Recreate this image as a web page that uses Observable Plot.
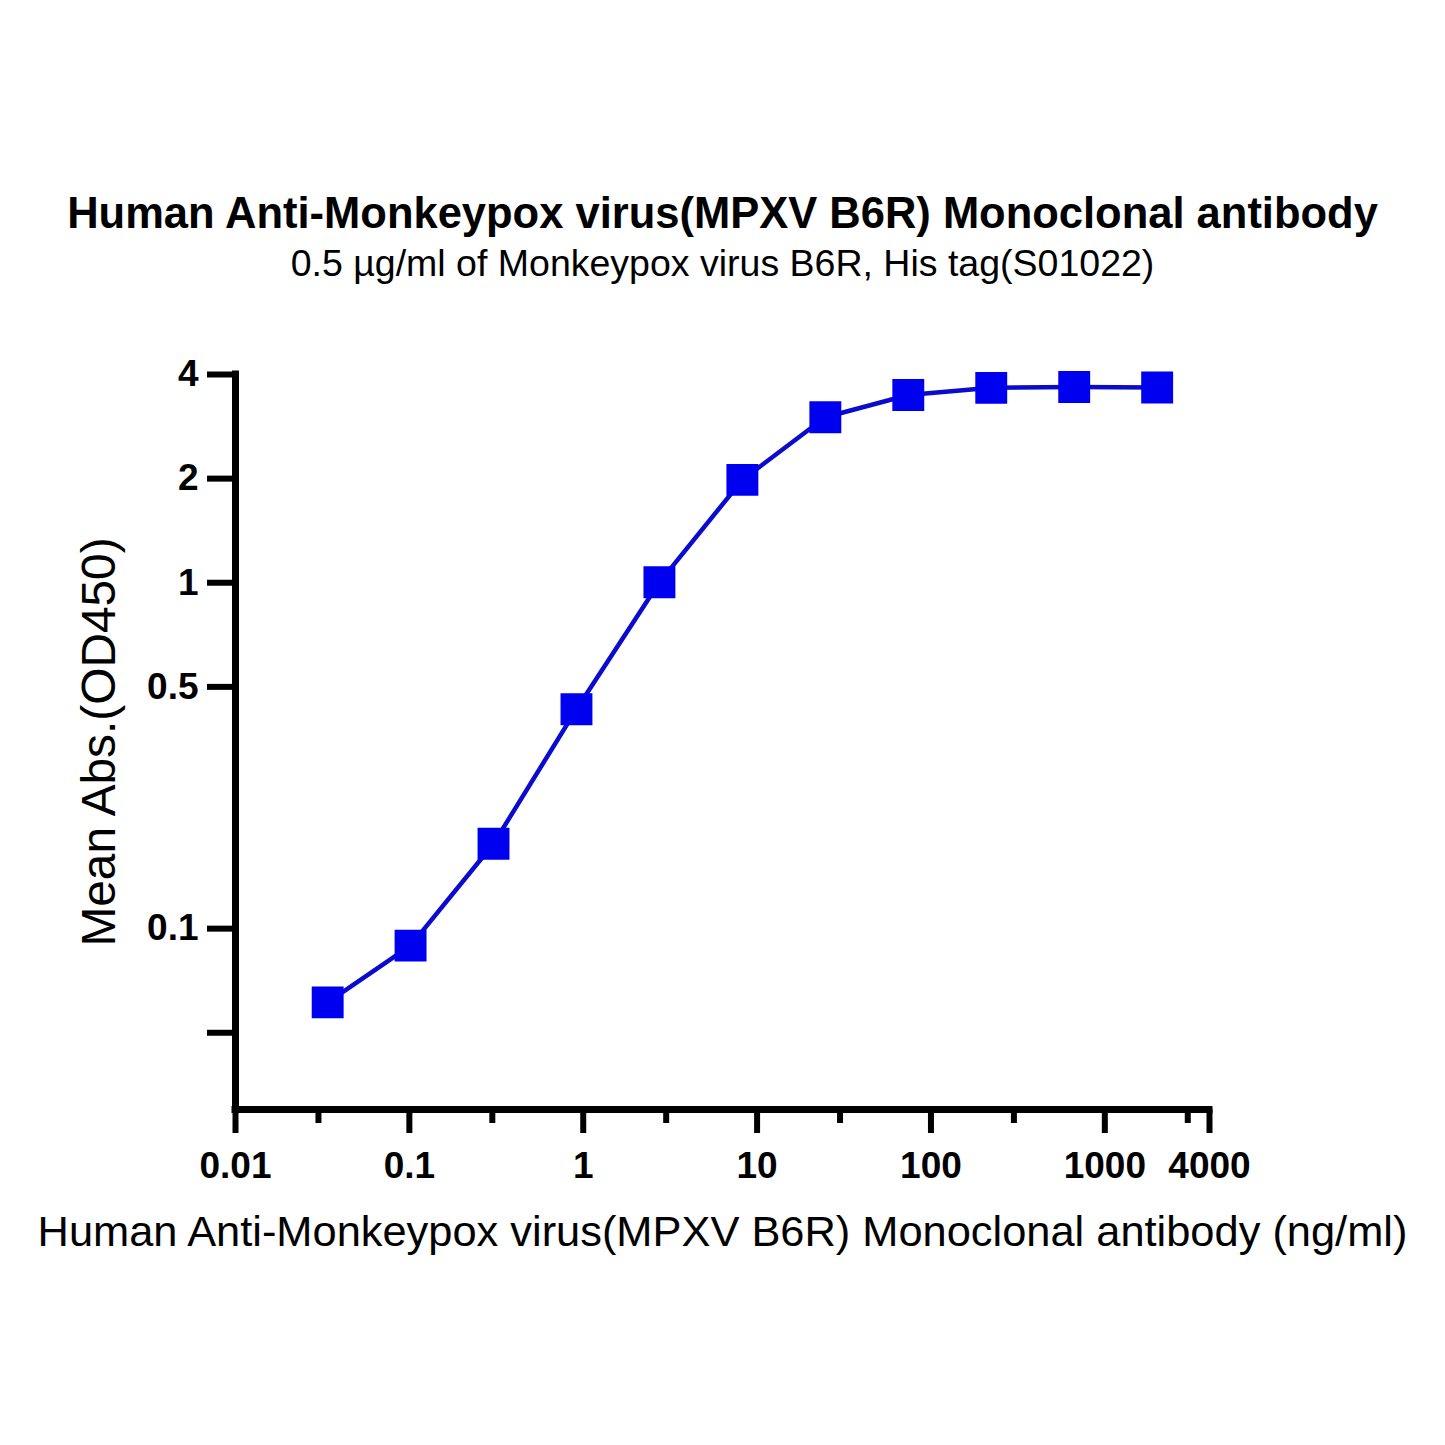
<!DOCTYPE html>
<html>
<head>
<meta charset="utf-8">
<script src="https://cdn.jsdelivr.net/npm/d3@7"></script>
<script src="https://cdn.jsdelivr.net/npm/@observablehq/plot@0.6"></script>
<style>
  html, body { margin: 0; padding: 0; background: #fff; }
  #chart svg { display: block; }
</style>
</head>
<body>
<div id="chart"></div>
<script>
const titleText = "Human Anti-Monkeypox virus(MPXV B6R) Monoclonal antibody";
const subtitleText = "0.5 µg/ml of Monkeypox virus B6R, His tag(S01022)";
const xLabel = "Human Anti-Monkeypox virus(MPXV B6R) Monoclonal antibody (ng/ml)";
const yLabel = "Mean Abs.(OD450)";

// concentrations (ng/ml), 3-fold dilution series
const concentrations = [0.0339, 0.1016, 0.3048, 0.9145, 2.743, 8.230, 24.69, 74.07, 222.2, 666.7, 2000];
const meanAbs = [0.0612, 0.0893, 0.176, 0.431, 1.003, 1.984, 3.01, 3.49, 3.66, 3.68, 3.67];

const xMajorTicks = [0.01, 0.1, 1, 10, 100, 1000, 4000];
const xTickLabels = ["0.01", "0.1", "1", "10", "100", "1000", "4000"];
const xMinorTicks = [0.03, 0.3, 3, 30, 300, 3000];
const yLabeledTicks = [4, 2, 1, 0.5, 0.1];
const yTickLabels = ["4", "2", "1", "0.5", "0.1"];
const yUnlabeledTicks = [0.05];
const xDomain = [0.01, 4000];
const yDomain = [0.03, 4];

const data = concentrations.map((c, i) => ({conc: c, abs: meanAbs[i]}));
const xLabelData = xMajorTicks.map((v, i) => ({v, label: xTickLabels[i]}));
const yLabelData = yLabeledTicks.map((v, i) => ({v, label: yTickLabels[i]}));

const font = "'Liberation Sans', Arial, Helvetica, sans-serif";
const lineColor = "#0b0bd0";
const markerColor = "#0000f0";

const chart = Plot.plot({
  width: 1445,
  height: 1445,
  marginLeft: 235,
  marginRight: 236,
  marginTop: 374,
  marginBottom: 336,
  style: {fontFamily: font, background: "#fff", color: "#000", overflow: "visible"},
  x: {type: "log", domain: xDomain},
  y: {type: "log", domain: yDomain},
  marks: [
    // axis lines
    Plot.ruleX([xDomain[0]], {stroke: "#000", strokeWidth: 7, strokeLinecap: "square"}),
    Plot.ruleY([yDomain[0]], {stroke: "#000", strokeWidth: 7, strokeLinecap: "square"}),
    // x axis
    Plot.axisX(xMajorTicks, {
      tickSize: 24, strokeWidth: 6, stroke: "#000", text: null, label: null
    }),
    Plot.axisX(xMinorTicks, {
      tickSize: 14, strokeWidth: 6, stroke: "#000", text: null, label: null
    }),
    Plot.text(xLabelData, {
      x: "v", text: "label", frameAnchor: "bottom", lineAnchor: "middle", dy: 57,
      fontSize: 37, fontWeight: "bold", fill: "#000"
    }),
    // y axis
    Plot.axisY(yLabeledTicks, {
      tickSize: 28, strokeWidth: 6, stroke: "#000", text: null, label: null
    }),
    Plot.axisY(yUnlabeledTicks, {
      tickSize: 28, strokeWidth: 6, stroke: "#000", text: null, label: null
    }),
    Plot.text(yLabelData, {
      y: "v", text: "label", frameAnchor: "left", textAnchor: "end", lineAnchor: "middle", dx: -37,
      fontSize: 37, fontWeight: "bold", fill: "#000"
    }),
    // data
    Plot.line(data, {x: "conc", y: "abs", stroke: lineColor, strokeWidth: 4.5}),
    Plot.dot(data, {x: "conc", y: "abs", symbol: "square", r: 18, fill: markerColor, stroke: "none"}),
    // titles and labels
    Plot.text([titleText], {frameAnchor: "top", lineAnchor: "middle", dy: -160, fontSize: 43.5, fontWeight: "bold", fill: "#000"}),
    Plot.text([subtitleText], {frameAnchor: "top", lineAnchor: "middle", dy: -111, fontSize: 37.5, fill: "#000"}),
    Plot.text([xLabel], {frameAnchor: "bottom", lineAnchor: "middle", dy: 123, fontSize: 43.4, fill: "#000"}),
    Plot.text([yLabel], {frameAnchor: "left", textAnchor: "middle", lineAnchor: "middle", dx: -136, rotate: -90, fontSize: 47.8, fill: "#000"})
  ]
});
document.getElementById("chart").appendChild(chart);
</script>
</body>
</html>
